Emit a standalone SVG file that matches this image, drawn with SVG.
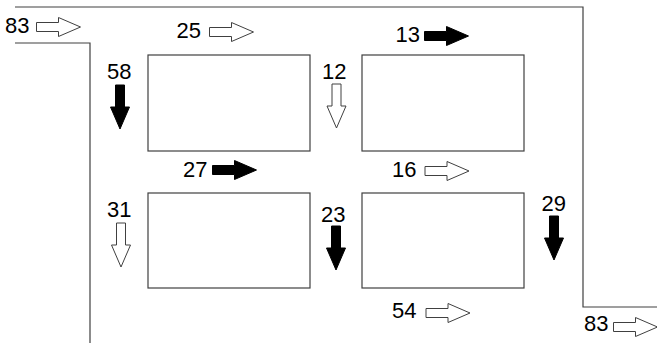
<svg xmlns="http://www.w3.org/2000/svg" xmlns:xlink="http://www.w3.org/1999/xlink" width="657" height="343" viewBox="0 0 657 343">
<style>
.box{fill:#fff;stroke:#404040;stroke-width:1.2}
.wall{fill:none;stroke:#404040;stroke-width:1.2}
.hollow{fill:#fff;stroke:#404040;stroke-width:1}
.solid{fill:#000;stroke:#000;stroke-width:1}
text{font-family:"Liberation Sans",Arial,sans-serif;font-size:22px;fill:#000}
</style>
<defs>
<path id="arr" d="M0,-4.5 H22 V-9.5 L44,0 L22,9.5 V4.5 H0 Z"/>
</defs>
<rect width="657" height="343" fill="#fff"/>
<g id="walls">
<polyline class="wall" points="15,7 583,7 583,307 657,307"/>
<polyline class="wall" points="15,43 90,43 90,343"/>
</g>
<g id="box1"><rect class="box" x="148" y="55" width="162" height="96"/></g>
<g id="box2"><rect class="box" x="362" y="55" width="162" height="96"/></g>
<g id="box3"><rect class="box" x="148" y="193" width="162" height="95"/></g>
<g id="box4"><rect class="box" x="362" y="193" width="162" height="95"/></g>
<g id="connectors">
<use xlink:href="#arr" class="hollow" transform="translate(36.5,27)"/>
<use xlink:href="#arr" class="hollow" transform="translate(209.5,32)"/>
<use xlink:href="#arr" class="solid" transform="translate(424.5,36)"/>
<use xlink:href="#arr" class="solid" transform="translate(212.5,170)"/>
<use xlink:href="#arr" class="hollow" transform="translate(425,171)"/>
<use xlink:href="#arr" class="hollow" transform="translate(426,313)"/>
<use xlink:href="#arr" class="hollow" transform="translate(613.5,327)"/>
<use xlink:href="#arr" class="solid" transform="translate(120,85) rotate(90)"/>
<use xlink:href="#arr" class="hollow" transform="translate(336.5,84) rotate(90)"/>
<use xlink:href="#arr" class="hollow" transform="translate(121,223) rotate(90)"/>
<use xlink:href="#arr" class="solid" transform="translate(336,226) rotate(90)"/>
<use xlink:href="#arr" class="solid" transform="translate(554,216) rotate(90)"/>
</g>
<g id="labels">
<text x="5" y="33">83</text>
<text x="176.5" y="37.5">25</text>
<text x="395.5" y="42">13</text>
<text x="107" y="79">58</text>
<text x="322" y="79">12</text>
<text x="183" y="177">27</text>
<text x="392" y="177">16</text>
<text x="107" y="217">31</text>
<text x="321" y="222">23</text>
<text x="541.5" y="211">29</text>
<text x="392" y="318">54</text>
<text x="584" y="331">83</text>
</g>
</svg>
